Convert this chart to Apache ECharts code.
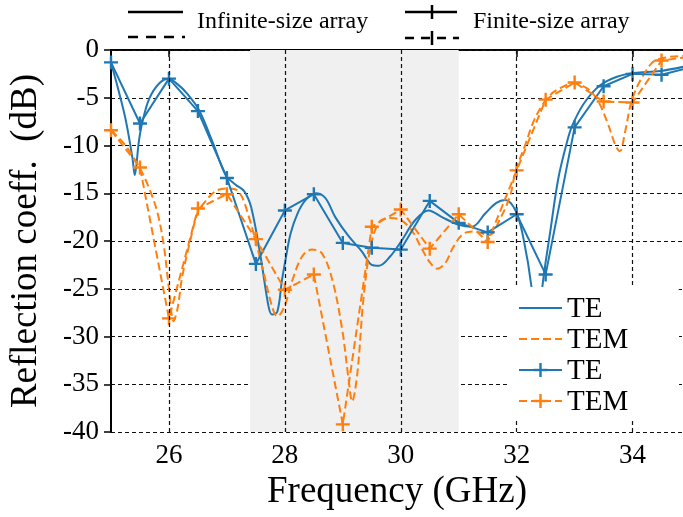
<!DOCTYPE html>
<html lang="en">
<head>
    <meta charset="UTF-8">
    <title>Reflection coefficient</title>
    <script src="https://cdn.jsdelivr.net/npm/echarts@6/dist/echarts.min.js"></script>
    <style>
        body { margin: 0; padding: 0; background: #fff; }
        #chart { width: 683px; height: 517px; }
    </style>
</head>
<body>
<div id="chart"></div>
<script>
    // finite-size array: one point every 0.5 GHz
    const freqFinite = [25, 25.5, 26, 26.5, 27, 27.5, 28, 28.5, 29, 29.5, 30, 30.5, 31, 31.5, 32, 32.5, 33, 33.5, 34, 34.5, 35];
    const teFinite = [-1.3, -7.7, -3.0, -6.4, -13.4, -22.4, -16.8, -15.1, -20.2, -20.7, -20.9, -15.8, -18.1, -19.1, -17.2, -23.5, -8.1, -3.8, -2.5, -2.6, -1.8];
    const temFinite = [-8.4, -12.3, -28.1, -16.6, -15.1, -19.8, -25.1, -23.5, -39.2, -18.5, -16.7, -20.8, -17.2, -20.1, -12.6, -5.2, -3.4, -5.4, -5.5, -1.1, -0.7];

    // infinite-size array
    const freqTeInf = [25.0, 25.12, 25.25, 25.37, 25.41, 25.48, 25.54, 25.66, 25.83, 26.0, 26.15, 26.29, 26.52, 26.75, 26.98, 27.15, 27.3, 27.42, 27.58, 27.72, 27.78, 27.87, 27.95, 28.01, 28.1, 28.22, 28.36, 28.53, 28.7, 28.87, 29.1, 29.33, 29.5, 29.62, 29.82, 30.0, 30.25, 30.48, 30.71, 31.0, 31.23, 31.46, 31.65, 31.8, 31.98, 32.11, 32.26, 32.36, 32.44, 32.58, 32.72, 32.87, 32.96, 33.16, 33.44, 33.73, 34.02, 34.48, 35.0];
    const teInf = [-1.3, -4.0, -7.2, -11.3, -13.1, -9.6, -7.6, -5.1, -3.5, -3.0, -3.6, -4.4, -6.3, -9.6, -13.1, -14.1, -14.8, -16.5, -21.6, -26.9, -27.7, -27.4, -24.1, -22.0, -19.2, -17.1, -15.7, -15.0, -15.5, -17.5, -19.5, -21.1, -22.5, -22.6, -21.6, -20.1, -17.8, -16.8, -17.5, -18.3, -18.5, -17.1, -16.0, -15.7, -16.8, -19.5, -25.0, -32.0, -25.0, -19.0, -13.4, -9.6, -7.9, -5.6, -3.7, -2.8, -2.4, -2.2, -1.6];

    const freqTemInf = [25.0, 25.25, 25.49, 25.66, 25.8, 25.91, 26.0, 26.08, 26.15, 26.23, 26.37, 26.49, 26.58, 26.8, 27.0, 27.2, 27.38, 27.61, 27.78, 27.87, 27.99, 28.13, 28.3, 28.47, 28.64, 28.82, 28.99, 29.1, 29.16, 29.25, 29.36, 29.48, 29.62, 29.8, 30.0, 30.2, 30.37, 30.51, 30.63, 30.77, 30.91, 31.09, 31.29, 31.52, 31.72, 31.89, 31.98, 32.15, 32.29, 32.44, 32.58, 32.75, 32.98, 33.21, 33.39, 33.56, 33.7, 33.78, 33.87, 33.99, 34.19, 34.42, 35.0];
    const temInf = [-8.4, -10.0, -12.3, -14.5, -17.0, -20.4, -25.0, -28.4, -27.0, -23.7, -19.9, -17.1, -16.2, -14.8, -14.5, -14.8, -17.5, -22.7, -26.9, -27.9, -26.9, -24.1, -21.6, -20.9, -21.3, -24.1, -29.3, -34.5, -36.8, -33.9, -25.8, -20.6, -18.1, -17.6, -17.8, -19.0, -20.9, -22.3, -22.9, -22.3, -20.6, -19.2, -19.0, -19.4, -17.6, -15.2, -12.7, -9.9, -7.5, -5.8, -4.7, -4.0, -3.5, -4.0, -5.2, -7.5, -9.9, -10.6, -8.6, -5.2, -2.6, -1.0, -0.6];

    const xTickValues = [26, 28, 30, 32, 34];
    const shadedBand = [27.4, 31.0];
    // the original plot is cut off by the picture edge a little before 35 GHz
    const xMin = 25, xMax = 34.87;

    const BLUE = '#1f77b4';
    const ORANGE = '#ff7f0e';
    const SERIF = "'Liberation Serif', 'Times New Roman', serif";
    const DASH = [8, 4];
    // "+" marker as a filled cross
    const PLUS = 'path://M-1.2,-7H1.2V7H-1.2Z M-7,-1.2H7V1.2H-7Z';

    function zip(xs, ys) {
        return xs.map((x, i) => [x, ys[i]]);
    }

    const chart = echarts.init(document.getElementById('chart'));

    // legend pieces are drawn by hand (two legends, one has a tuple handle)
    function hline(x1, x2, y, color, dash, width) {
        return {
            type: 'line', z: 101,
            shape: { x1: x1, y1: y, x2: x2, y2: y },
            style: { stroke: color, lineWidth: width || 2, lineDash: dash || null }
        };
    }
    function plus(cx, cy, color, size, width) {
        const h = size / 2;
        return {
            type: 'group', z: 101,
            children: [
                { type: 'line', z: 101, shape: { x1: cx - h, y1: cy, x2: cx + h, y2: cy }, style: { stroke: color, lineWidth: width } },
                { type: 'line', z: 101, shape: { x1: cx, y1: cy - h, x2: cx, y2: cy + h }, style: { stroke: color, lineWidth: width } }
            ]
        };
    }
    function label(x, y, text, size) {
        return {
            type: 'text', z: 101, x: x, y: y,
            style: { text: text, fill: '#000', font: size + 'px ' + SERIF, verticalAlign: 'middle', align: 'left' }
        };
    }

    const legendRows = [308, 339, 370, 401];
    const graphics = [
        // top legend
        hline(128, 183, 12, '#000', null, 2.5),
        hline(128, 185, 37, '#000', [10, 8], 2.5),
        label(197, 22, 'Infinite-size array', 24),
        hline(405, 457, 12, '#000', null, 2.5),
        { type: 'line', z: 101, shape: { x1: 432, y1: 5, x2: 432, y2: 19 }, style: { stroke: '#000', lineWidth: 2.5 } },
        hline(405, 459, 38, '#000', [9, 7], 2.5),
        { type: 'line', z: 101, shape: { x1: 432, y1: 31, x2: 432, y2: 45 }, style: { stroke: '#000', lineWidth: 2.5 } },
        label(473, 22, 'Finite-size array', 24),
        // bottom-right legend box
        {
            type: 'rect', z: 100,
            shape: { x: 508, y: 287, width: 171, height: 134, r: 4 },
            style: { fill: '#fff', stroke: null }
        },
        hline(519, 562, legendRows[0], BLUE, null, 2),
        label(567, legendRows[0] + 1, 'TE', 29),
        hline(519, 562, legendRows[1], ORANGE, DASH, 2),
        label(567, legendRows[1] + 1, 'TEM', 29),
        hline(519, 562, legendRows[2], BLUE, null, 2),
        plus(540.5, legendRows[2], BLUE, 14, 2.4),
        label(567, legendRows[2] + 1, 'TE', 29),
        hline(519, 562, legendRows[3], ORANGE, DASH, 2),
        plus(540.5, legendRows[3], ORANGE, 14, 2.4),
        label(567, legendRows[3] + 1, 'TEM', 29)
    ];

    const option = {
        animation: false,
        backgroundColor: '#fff',
        textStyle: { fontFamily: SERIF },
        grid: {
            left: 110.5, right: 0, top: 50, bottom: 85
        },
        xAxis: [
            {
                type: 'value', min: xMin, max: xMax,
                name: 'Frequency (GHz)', nameLocation: 'middle', nameGap: 42,
                nameTextStyle: { fontSize: 37, color: '#000', fontFamily: SERIF },
                axisLine: { show: true, lineStyle: { color: '#000', width: 2 } },
                axisTick: { show: true, customValues: xTickValues, length: 7, lineStyle: { color: '#000', width: 1.5 } },
                axisLabel: { customValues: xTickValues, fontSize: 27, color: '#000', margin: 10, fontFamily: SERIF },
                splitLine: { show: false }
            },
            {
                // top spine only
                type: 'value', position: 'top', min: xMin, max: xMax,
                axisLine: { show: true, lineStyle: { color: '#000', width: 2 } },
                axisTick: { show: false }, axisLabel: { show: false }, splitLine: { show: false }
            }
        ],
        yAxis: {
            type: 'value', min: -40, max: 0, interval: 5, z: 1,
            name: 'Reflection coeff.  (dB)', nameLocation: 'middle', nameGap: 66,
            nameTextStyle: { fontSize: 37, color: '#000', fontFamily: SERIF },
            axisLine: { show: true, lineStyle: { color: '#000', width: 2 } },
            axisTick: { show: true, length: 7, lineStyle: { color: '#000', width: 1.5 } },
            axisLabel: { fontSize: 27, color: '#000', margin: 12, fontFamily: SERIF },
            splitLine: { show: true, lineStyle: { color: '#111', width: 1.2, type: [4, 3] } }
        },
        graphic: graphics,
        series: [
            {
                // shaded band
                type: 'line', z: 0, data: [], silent: true,
                markArea: {
                    silent: true,
                    itemStyle: { color: '#f0f0f0' },
                    data: [[{ xAxis: shadedBand[0] }, { xAxis: shadedBand[1] }]]
                }
            },
            {
                // vertical grid lines at the labelled ticks
                type: 'line', z: 1, data: [], silent: true,
                markLine: {
                    silent: true, symbol: 'none', label: { show: false },
                    lineStyle: { color: '#111', width: 1.2, type: [4, 3] },
                    data: xTickValues.map(v => ({ xAxis: v }))
                }
            },
            {
                name: 'TE', type: 'line', z: 2, data: zip(freqTeInf, teInf),
                smooth: 0.35, showSymbol: false,
                lineStyle: { color: BLUE, width: 2 }
            },
            {
                name: 'TEM', type: 'line', z: 2, data: zip(freqTemInf, temInf),
                smooth: 0.35, showSymbol: false,
                lineStyle: { color: ORANGE, width: 2, type: DASH }
            },
            {
                name: 'TE', type: 'line', z: 3, data: zip(freqFinite, teFinite),
                symbol: PLUS, symbolSize: 14, showSymbol: true,
                itemStyle: { color: BLUE },
                lineStyle: { color: BLUE, width: 2 }
            },
            {
                name: 'TEM', type: 'line', z: 3, data: zip(freqFinite, temFinite),
                symbol: PLUS, symbolSize: 14, showSymbol: true,
                itemStyle: { color: ORANGE },
                lineStyle: { color: ORANGE, width: 2, type: DASH }
            }
        ]
    };

    chart.setOption(option);
</script>
</body>
</html>
